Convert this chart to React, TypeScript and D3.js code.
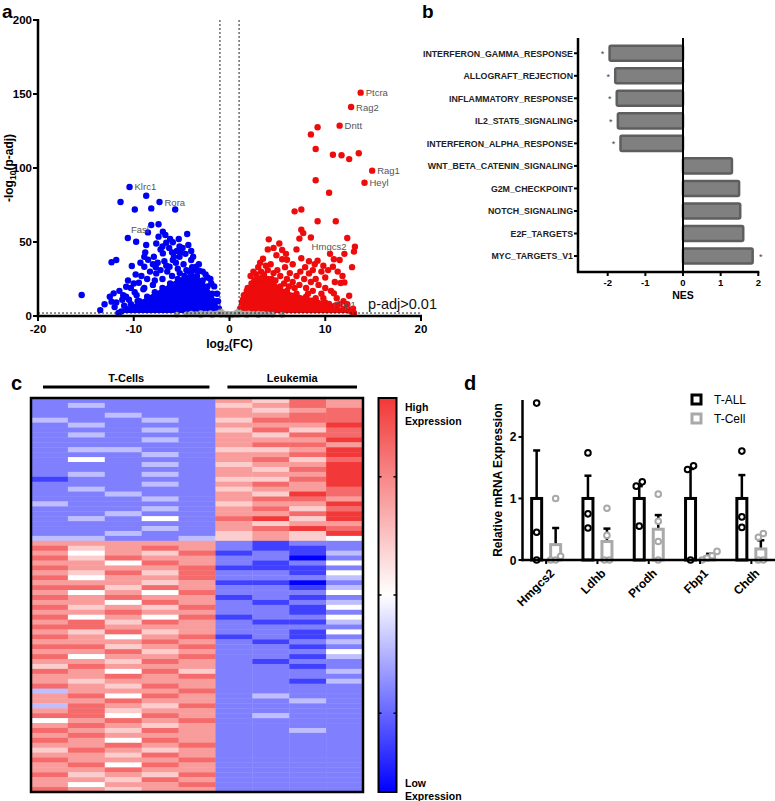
import React from 'react';
import * as d3 from 'd3';

// ---------------- Panel a : volcano ----------------
const volcanoXTicks = [-20, -10, 0, 10, 20];
const volcanoYTicks = [0, 50, 100, 150, 200];
const fcCut = 1;
const padjCut = 2; // -log10(0.01)

// up-regulated (red) scattered genes [log2FC, -log10 padj]
const upPoints: [number, number][] = [
  [9.2, 127.5], [8.5, 122.7], [9.0, 112.8], [10.8, 109], [11.7, 108.6], [12.5, 106], [13.5, 110],
  [9.0, 91.7], [10.4, 83.3], [6.8, 70.7], [7.5, 72], [9.2, 64], [11.1, 64], [7.5, 58.3], [7.3, 52.3],
  [8.5, 53], [12.3, 52.7], [7.7, 56], [4.1, 51.8], [5.2, 49], [5.5, 44.6], [4.0, 45], [13.1, 46.8],
  [13.0, 43.5], [12.0, 42], [9.2, 37.4], [10.9, 38.3], [11.5, 37.8], [4.9, 41], [5.5, 38.3], [3.5, 38.7],
  [7.5, 39], [10.8, 33.3], [10.3, 31], [8.7, 31], [8.3, 28.8], [9.6, 30], [11.3, 30], [11.8, 27],
  [11.6, 22.3], [12.0, 22.7], [12.5, 13.7], [10.9, 15.3], [9.6, 15], [8.7, 17], [8.0, 19], [7.3, 21],
  [6.6, 23], [6.0, 25], [5.3, 27], [4.6, 29], [4.0, 31], [3.3, 30], [2.8, 28], [6.3, 29], [7.0, 27],
  [7.8, 25], [8.5, 23], [9.3, 21], [10.0, 19], [10.6, 17], [11.2, 12], [11.9, 10], [12.3, 8], [12.9, 5],
  [5.8, 33], [6.6, 35], [7.9, 33], [8.9, 35], [9.8, 34], [4.3, 35], [3.8, 34], [2.5, 30], [2.2, 27],
  [5.0, 31], [7.4, 30], [10.0, 26], [11.0, 23], [9.0, 25], [6.2, 20], [5.7, 22], [4.4, 25], [3.0, 33],
  [8.3, 37], [6.0, 38], [4.6, 46], [12.8, 33], [1.5, 14], [1.9, 19], [1.3, 9], [2.6, 24], [3.6, 28],
  [4.8, 24], [6.8, 19], [8.2, 15], [9.8, 12], [11.5, 8], [12.6, 4], [7.0, 45], [5.9, 42], [3.2, 36],
];
// down-regulated (blue) scattered genes
const downPoints: [number, number][] = [
  [-8.7, 81.3], [-11.38, 77], [-9.89, 72], [-8.17, 72.7], [-5.67, 72], [-8.17, 61.5], [-7.41, 62],
  [-10.62, 52.7], [-9.75, 50.2], [-6.96, 57], [-6.7, 54.7], [-7.41, 53.6], [-4.42, 55.4], [-8.7, 48],
  [-7.65, 49], [-6.61, 49.5], [-5.92, 49.8], [-5.22, 47], [-4.9, 46], [-5.1, 43], [-4.6, 42], [-4.3, 48],
  [-10.2, 33.8], [-12.32, 36.3], [-11.83, 37.8], [-10.79, 19.8], [-12.1, 15.3], [-10.6, 24], [-9.47, 22.5],
  [-15.44, 14.2], [-13.05, 7.9], [-12.32, 9.7], [-11.83, 9.2], [-11.2, 11], [-10.8, 13], [-9.9, 16],
  [-9.0, 18], [-8.9, 40], [-8.9, 33.3], [-8.0, 35], [-7.65, 28.8], [-6.96, 42.3], [-6.26, 33.3],
  [-5.92, 37.8], [-5.22, 40], [-4.0, 37.8], [-3.48, 33.3], [-3.13, 30.5], [-8.5, 38], [-8.8, 43],
  [-7.2, 45], [-6.3, 46], [-5.5, 44], [-5.8, 40], [-7.9, 40], [-7.5, 36], [-6.8, 37], [-6.5, 30],
  [-7.2, 31], [-8.3, 30], [-9.2, 27], [-8.6, 25], [-7.8, 24], [-9.8, 28], [-10.3, 19], [-11.5, 17],
  [-12.5, 13], [-11.0, 7], [-10.3, 8], [-9.6, 10], [-3.8, 40], [-4.8, 35], [-5.4, 32], [-3.2, 35],
  [-2.8, 30], [-2.5, 28], [-2.0, 25], [-1.6, 20], [-1.3, 15], [-4.5, 31], [-3.9, 33], [-6.0, 27],
  [-7.0, 25], [-8.0, 21], [-8.9, 19], [-9.7, 14], [-10.5, 11], [-5.2, 29], [-4.2, 30], [-3.6, 31],
  [-2.3, 26], [-1.9, 22], [-1.2, 10], [-6.6, 34], [-7.7, 33], [-5.6, 36], [-4.0, 44], [-6.0, 43],
  [-9.3, 36], [-10.0, 22], [-11.1, 14], [-12.0, 6], [-13.5, 4], [-6.2, 52], [-5.3, 52], [-7.0, 47],
];
// not significant (grey)
const nsPoints: [number, number][] = [
  [-4.5, 1.0], [-4.0, 1.5], [-3.5, 1.2], [-3.0, 1.8], [-2.5, 1.5], [-2.0, 1.8], [-1.5, 1.6], [-1.2, 1.9],
  [-0.9, 3.0], [-0.7, 2.0], [-0.5, 1.2], [-0.3, 0.6], [0.0, 0.2], [0.3, 0.5], [0.5, 1.2], [0.7, 2.0],
  [0.9, 3.0], [1.2, 1.8], [1.6, 1.5], [2.0, 1.7], [2.5, 1.4], [3.0, 1.6], [3.5, 1.3], [4.0, 1.0],
  [4.5, 0.8], [-0.8, 0.8], [0.8, 0.8], [-1.8, 0.5], [1.8, 0.5], [-3.0, 0.5], [3.0, 0.5], [-5.5, 0.8],
  [5.5, 0.7], [-0.2, 1.5], [0.2, 1.4], [-1.0, 1.0], [1.0, 1.0],
];
// upper edge of the densely packed clouds
const upCore: [number, number][] = [
  [1.0, 2], [1.1, 5], [1.4, 11], [1.8, 17], [2.3, 22], [2.8, 25], [3.4, 26], [4.0, 25], [4.6, 23],
  [5.3, 20], [6.0, 17], [7.0, 15], [8.0, 13], [9.0, 12], [10.0, 9], [11.0, 7], [12.0, 5], [12.7, 3], [13.0, 2],
];
const downCore: [number, number][] = [
  [-11.6, 2], [-11.3, 3], [-10.8, 5], [-10.2, 7], [-9.4, 10], [-8.6, 13], [-7.8, 16], [-7.0, 19],
  [-6.2, 22], [-5.4, 25], [-4.7, 27], [-4.0, 28], [-3.4, 27], [-2.8, 24], [-2.3, 20], [-1.8, 15],
  [-1.4, 10], [-1.1, 5], [-1.0, 2],
];
const labelledGenes = [
  { gene: 'Ptcra', fc: 13.7, p: 150.9 },
  { gene: 'Rag2', fc: 12.7, p: 141.2 },
  { gene: 'Dntt', fc: 11.5, p: 128.6 },
  { gene: 'Rag1', fc: 14.9, p: 98.2 },
  { gene: 'Heyl', fc: 14.1, p: 90 },
  { gene: 'Hmgcs2', fc: 10.5, p: 42 },
  { gene: 'Fbp1', fc: 10.4, p: 8.1 },
  { gene: 'Klrc1', fc: -10.44, p: 87.2 },
  { gene: 'Rora', fc: -7.31, p: 77 },
  { gene: 'Fasl', fc: -8.52, p: 56.5 },
];

// ---------------- Panel b : GSEA NES ----------------
const pathways = [
  'INTERFERON_GAMMA_RESPONSE', 'ALLOGRAFT_REJECTION', 'INFLAMMATORY_RESPONSE', 'IL2_STAT5_SIGNALING',
  'INTERFERON_ALPHA_RESPONSE', 'WNT_BETA_CATENIN_SIGNALING', 'G2M_CHECKPOINT', 'NOTCH_SIGNALING',
  'E2F_TARGETS', 'MYC_TARGETS_V1',
];
const nesValues = [-1.95, -1.8, -1.76, -1.73, -1.66, 1.3, 1.49, 1.52, 1.6, 1.85];
const nesSignificant = [true, true, true, true, true, false, false, false, false, true];
const nesTicks = [-2, -1, 0, 1, 2];

// ---------------- Panel c : heatmap ----------------
const heatColumns = ['T1', 'T2', 'T3', 'T4', 'T5', 'L1', 'L2', 'L3', 'L4'];
const heatGroups = [
  { name: 'T-Cells', from: 0, to: 4 },
  { name: 'Leukemia', from: 5, to: 8 },
];
// expression level per sample, 0 = lowest (blue), 4 = middle (white), 8 = highest (red)
const heatRows = [
  '222226576', '232225676', '222226567', '223226677', '322325777', '232226668', '222325757', '232226577',
  '222326668', '222226776', '233225568', '222326678', '242226757', '222325668', '222226578', '232326668',
  '122225578', '222326768', '232225667', '223226587', '222326776', '322225668', '222326757', '223226678',
  '232427858', '222226566', '222326787', '223225658', '332235654',
  '666662122', '756762112', '646571213', '757662202', '664762124', '766671112', '657572214', '746672223',
  '666561102', '775762213', '646472224', '767661212', '664762123', '756572214', '667662212', '746471224',
  '675762113', '776662222', '657562214', '764671212', '666762123', '775672212', '667562224', '746672213',
  '665762122', '576662212', '764752223', '667672222', '656662213', '765762222', '366672222', '674762322',
  '667662232', '376572222', '675662222', '774762322', '467672222', '676562222', '765762232', '676662222',
  '764762222', '667672222', '576562222', '665762222', '766672222', '674762222', '667662222', '756572222',
  '665762222', '646672222', '765662222',
];
const colorbarTicks = [-0.6, 0, 0.6];

// ---------------- Panel d : qPCR ----------------
const qpcrGenes = ['Hmgcs2', 'Ldhb', 'Prodh', 'Fbp1', 'Chdh'];
const tallMean = [1, 1, 1, 1, 1];
const tallSem = [0.78, 0.37, 0.2, 0.48, 0.38];
const tcellMean = [0.25, 0.3, 0.5, 0.05, 0.18];
const tcellSem = [0.27, 0.21, 0.23, 0.05, 0.14];
const tallPoints = [[2.55, 0.45, 0], [1.74, 0.75, 0.52], [1.27, 1.2, 0.55], [1.53, 1.47, 0], [1.77, 0.7, 0.53]];
const tcellPoints = [[1.0, 0.06, 0, 0], [0.84, 0.4, 0, 0], [1.07, 0.63, 0.3, 0], [0.14, 0.07, 0.03, 0], [0.43, 0.37, 0, 0]];
const qpcrTicks = [0, 1, 2];
const qpcrSeries = ['T-ALL', 'T-Cell'];

const FONT = "'Liberation Sans', Arial, Helvetica, sans-serif";
const BLUE = '#0000f2';
const RED = '#ee0b0b';
const GREY = '#a9a9a9';

function dodge(vals: number[], gap: number) {
  // horizontal offsets for points whose values nearly coincide
  const idx = vals.map((v, i) => i).sort((a, b) => vals[a] - vals[b]);
  const offs = new Array(vals.length).fill(0);
  let cluster: number[] = [];
  const flush = () => {
    const n = cluster.length;
    cluster.forEach((ci, k) => { offs[ci] = n === 1 ? 0 : (k - (n - 1) / 2) * gap; });
    cluster = [];
  };
  idx.forEach((i) => {
    if (cluster.length && vals[i] - vals[cluster[cluster.length - 1]] > 0.09) flush();
    cluster.push(i);
  });
  flush();
  return offs;
}

export default function App() {
  // ---------- a ----------
  const ax = d3.scaleLinear().domain([-20, 20]).range([38, 421]);
  const ay = d3.scaleLinear().domain([0, 200]).range([316, 20]);
  const coreArea = d3.area<[number, number]>()
    .x((d) => ax(d[0])).y0(ay(padjCut)).y1((d) => ay(d[1])).curve(d3.curveMonotoneX);

  // ---------- b ----------
  const bx = d3.scaleLinear().domain([-2, 2]).range([607.7, 758.3]);
  const by = d3.scaleBand<string>().domain(pathways).range([42, 267.3]).paddingInner(0.33).paddingOuter(0.165);
  const bAxisX = 578;
  const bAxisY = 272;

  // ---------- c ----------
  const cx = d3.scaleBand<string>().domain(heatColumns).range([31, 363]);
  const cy = d3.scaleBand<number>().domain(heatRows.map((_, i) => i)).range([398, 792]);
  const heatColor = (lvl: number) => {
    const t = (lvl - 4) / 4;
    return t >= 0 ? d3.interpolateRgb('#ffffff', '#f23838')(t) : d3.interpolateRgb('#ffffff', '#0000ff')(-t);
  };
  const cbScale = d3.scaleLinear().domain([-1, 1]).range([792, 398]);

  // ---------- d ----------
  const dy = d3.scaleLinear().domain([0, 2.6]).range([560, 400]);
  const dx = d3.scaleBand<string>().domain(qpcrGenes).range([520.5, 777]);
  const dAxisX = 522.5;
  const barW = 10;
  const off = 9.5;

  return (
    <svg width={775} height={801} style={{ position: 'absolute', left: 0, top: 0, background: '#fff' }}
      fontFamily={FONT}>
      <defs>
        <linearGradient id="cbGrad" x1="0" y1="1" x2="0" y2="0">
          <stop offset="0%" stopColor="#0000ff" />
          <stop offset="50%" stopColor="#ffffff" />
          <stop offset="100%" stopColor="#f23838" />
        </linearGradient>
      </defs>
      <rect width={775} height={801} fill="#fff" />

      {/* ================= a ================= */}
      <text x={2} y={18} fontSize={19} fontWeight="bold">a</text>
      <path d={coreArea(downCore) || ''} fill={BLUE} />
      <path d={coreArea(upCore) || ''} fill={RED} />
      {downCore.map((d, i) => <circle key={'dc' + i} cx={ax(d[0])} cy={ay(d[1])} r={3.2} fill={BLUE} />)}
      {upCore.map((d, i) => <circle key={'uc' + i} cx={ax(d[0])} cy={ay(d[1])} r={3.2} fill={RED} />)}
      {downPoints.map((d, i) => <circle key={'d' + i} cx={ax(d[0])} cy={ay(d[1])} r={3.2} fill={BLUE} />)}
      {upPoints.map((d, i) => <circle key={'u' + i} cx={ax(d[0])} cy={ay(d[1])} r={3.2} fill={RED} />)}
      {nsPoints.map((d, i) => <circle key={'n' + i} cx={ax(d[0])} cy={ay(d[1])} r={3} fill={GREY} />)}
      {labelledGenes.map((g) => (
        <circle key={'lp' + g.gene} cx={ax(g.fc)} cy={ay(g.p)} r={3.2} fill={g.fc > 0 ? RED : BLUE} />
      ))}
      {labelledGenes.map((g) => {
        let x = ax(g.fc) + 5;
        let y = ay(g.p) + 3.5;
        let anchor = 'start';
        if (g.gene === 'Hmgcs2') { x = ax(g.fc) - 1; y = ay(g.p) - 4; anchor = 'middle'; }
        if (g.gene === 'Fasl') { x = ax(g.fc) + 1; y = ay(g.p) + 1; anchor = 'end'; }
        return (
          <text key={'lt' + g.gene} x={x} y={y} fontSize={9.5} fill="#555" textAnchor={anchor}>{g.gene}</text>
        );
      })}
      {/* thresholds */}
      <line x1={ax(-fcCut)} x2={ax(-fcCut)} y1={ay(200)} y2={ay(0)} stroke="#222" strokeWidth={1} strokeDasharray="2,2" />
      <line x1={ax(fcCut)} x2={ax(fcCut)} y1={ay(200)} y2={ay(0)} stroke="#222" strokeWidth={1} strokeDasharray="2,2" />
      <line x1={ax(-20)} x2={ax(20)} y1={ay(padjCut)} y2={ay(padjCut)} stroke="#222" strokeWidth={1} strokeDasharray="2,2" />
      <text x={437} y={309} fontSize={14.5} textAnchor="end" fill="#111">p-adj&gt;0.01</text>
      {/* axes */}
      <line x1={ax(-20)} x2={ax(-20)} y1={ay(200) - 1} y2={ay(0) + 1.5} stroke="#000" strokeWidth={2.5} />
      <line x1={ax(-20) - 1.2} x2={ax(20) + 1} y1={ay(0)} y2={ay(0)} stroke="#000" strokeWidth={2.5} />
      {volcanoYTicks.map((t) => (
        <g key={'ayt' + t}>
          <line x1={ax(-20) - 5} x2={ax(-20)} y1={ay(t)} y2={ay(t)} stroke="#000" strokeWidth={2} />
          <text x={ax(-20) - 6} y={ay(t) + 4} fontSize={11.5} fontWeight="bold" textAnchor="end">{t}</text>
        </g>
      ))}
      {volcanoXTicks.map((t) => (
        <g key={'axt' + t}>
          <line x1={ax(t)} x2={ax(t)} y1={ay(0)} y2={ay(0) + 5} stroke="#000" strokeWidth={2} />
          <text x={ax(t)} y={ay(0) + 17} fontSize={11.5} fontWeight="bold" textAnchor="middle">{t}</text>
        </g>
      ))}
      <text x={ax(0)} y={348} fontSize={12} fontWeight="bold" textAnchor="middle">
        log<tspan fontSize={8.5} dy={3}>2</tspan><tspan dy={-3}>(FC)</tspan>
      </text>
      <text transform={`translate(12.5,${ay(100)}) rotate(-90)`} fontSize={12} fontWeight="bold" textAnchor="middle">
        -log<tspan fontSize={8.5} dy={3}>10</tspan><tspan dy={-3}>(p-adj)</tspan>
      </text>

      {/* ================= b ================= */}
      <text x={422} y={18} fontSize={19} fontWeight="bold">b</text>
      {pathways.map((p, i) => {
        const v = nesValues[i];
        const y0 = by(p) as number;
        const h = by.bandwidth();
        return (
          <g key={p}>
            <rect x={Math.min(bx(0), bx(v))} y={y0} width={Math.abs(bx(v) - bx(0))} height={h}
              fill="#808080" stroke="#5e5e5e" strokeWidth={2.5} rx={1.5} />
            <line x1={bAxisX - 4} x2={bAxisX} y1={y0 + h / 2} y2={y0 + h / 2} stroke="#000" strokeWidth={2} />
            <text x={bAxisX - 5} y={y0 + h / 2 + 3.3} fontSize={8.8} fontWeight="bold" textAnchor="end" fill="#222">{p}</text>
            {nesSignificant[i] && (
              <text x={v < 0 ? bx(v) - 7 : bx(v) + 8} y={y0 + h / 2 + 4} fontSize={9} textAnchor="middle" fill="#444">*</text>
            )}
          </g>
        );
      })}
      <line x1={bx(0)} x2={bx(0)} y1={38} y2={bAxisY} stroke="#000" strokeWidth={2} />
      <line x1={bAxisX} x2={bAxisX} y1={38} y2={bAxisY + 1} stroke="#000" strokeWidth={2.5} />
      <line x1={bAxisX - 1} x2={bx(2) + 1} y1={bAxisY} y2={bAxisY} stroke="#000" strokeWidth={2.5} />
      {nesTicks.map((t) => (
        <g key={'bt' + t}>
          <line x1={bx(t)} x2={bx(t)} y1={bAxisY} y2={bAxisY + 4} stroke="#000" strokeWidth={2} />
          <text x={bx(t)} y={bAxisY + 13.5} fontSize={9.5} fontWeight="bold" textAnchor="middle">{t}</text>
        </g>
      ))}
      <text x={bx(0)} y={299} fontSize={10.5} fontWeight="bold" textAnchor="middle">NES</text>

      {/* ================= c ================= */}
      <text x={11} y={390} fontSize={20} fontWeight="bold">c</text>
      {heatGroups.map((g) => {
        const x1 = (cx(heatColumns[g.from]) as number) + 12;
        const x2 = (cx(heatColumns[g.to]) as number) + cx.bandwidth() - 6;
        return (
          <g key={g.name}>
            <text x={(x1 + x2) / 2} y={382} fontSize={11} fontWeight="bold" textAnchor="middle">{g.name}</text>
            <line x1={x1} x2={x2} y1={387} y2={387} stroke="#000" strokeWidth={3} />
          </g>
        );
      })}
      {heatRows.map((row, ri) =>
        row.split('').map((ch, ci) => (
          <rect key={ri + '-' + ci} x={cx(heatColumns[ci]) as number} y={cy(ri) as number}
            width={cx.bandwidth() + 0.4} height={cy.bandwidth() + 0.4} fill={heatColor(Number(ch))} />
        ))
      )}
      <rect x={31} y={398} width={332} height={394} fill="none" stroke="#000" strokeWidth={2.5} />
      {/* colour bar */}
      <rect x={378.5} y={cbScale(1)} width={18} height={cbScale(-1) - cbScale(1)} fill="url(#cbGrad)" stroke="#000" strokeWidth={2} />
      {colorbarTicks.map((t) => (
        <g key={'cb' + t}>
          <line x1={378.5} x2={381.5} y1={cbScale(t)} y2={cbScale(t)} stroke="#000" strokeWidth={1.5} />
          <line x1={393.5} x2={396.5} y1={cbScale(t)} y2={cbScale(t)} stroke="#000" strokeWidth={1.5} />
        </g>
      ))}
      <text x={405} y={411} fontSize={10.5} fontWeight="bold">High</text>
      <text x={405} y={425} fontSize={10.5} fontWeight="bold">Expression</text>
      <text x={405} y={787} fontSize={10.5} fontWeight="bold">Low</text>
      <text x={405} y={800} fontSize={10.5} fontWeight="bold">Expression</text>

      {/* ================= d ================= */}
      <text x={464} y={390} fontSize={20} fontWeight="bold">d</text>
      <text transform={`translate(502,${dy(1.3)}) rotate(-90)`} fontSize={12} fontWeight="bold" textAnchor="middle">
        Relative mRNA Expression
      </text>
      {qpcrGenes.map((g, i) => {
        const c = (dx(g) as number) + dx.bandwidth() / 2;
        const xb = c - off;
        const xg = c + off;
        const oB = dodge(tallPoints[i], 6);
        const oG = dodge(tcellPoints[i], 5);
        return (
          <g key={g}>
            {/* T-ALL */}
            <line x1={xb} x2={xb} y1={dy(tallMean[i])} y2={dy(tallMean[i] + tallSem[i])} stroke="#000" strokeWidth={2.5} />
            <line x1={xb - 3.5} x2={xb + 3.5} y1={dy(tallMean[i] + tallSem[i])} y2={dy(tallMean[i] + tallSem[i])} stroke="#000" strokeWidth={2.5} />
            <rect x={xb - barW / 2} y={dy(tallMean[i])} width={barW} height={dy(0) - dy(tallMean[i])} fill="#fff" stroke="#000" strokeWidth={3} />
            {tallPoints[i].map((v, k) => (
              <circle key={'tp' + k} cx={xb + oB[k]} cy={dy(v)} r={2.8} fill="#fff" stroke="#000" strokeWidth={2} />
            ))}
            {/* T-Cell */}
            <line x1={xg} x2={xg} y1={dy(tcellMean[i])} y2={dy(tcellMean[i] + tcellSem[i])} stroke="#000" strokeWidth={2.5} />
            <line x1={xg - 3.5} x2={xg + 3.5} y1={dy(tcellMean[i] + tcellSem[i])} y2={dy(tcellMean[i] + tcellSem[i])} stroke="#000" strokeWidth={2.5} />
            <rect x={xg - barW / 2} y={dy(tcellMean[i])} width={barW} height={dy(0) - dy(tcellMean[i])} fill="#fff" stroke={GREY} strokeWidth={3} />
            {tcellPoints[i].map((v, k) => (
              <circle key={'cp' + k} cx={xg + oG[k]} cy={dy(v)} r={2.8} fill="#fff" stroke={GREY} strokeWidth={2} />
            ))}
            <line x1={c} x2={c} y1={dy(0)} y2={dy(0) + 4} stroke="#000" strokeWidth={2} />
            <text transform={`translate(${c + 3},${dy(0) + 8}) rotate(-45)`} fontSize={12} fontWeight="bold" textAnchor="end" dy="0.7em">{g}</text>
          </g>
        );
      })}
      <line x1={dAxisX} x2={dAxisX} y1={dy(2.6)} y2={dy(0) + 1.2} stroke="#000" strokeWidth={2.5} />
      <line x1={dAxisX - 1.2} x2={775} y1={dy(0)} y2={dy(0)} stroke="#000" strokeWidth={2.5} />
      {qpcrTicks.map((t) => (
        <g key={'dt' + t}>
          <line x1={dAxisX - 4} x2={dAxisX} y1={dy(t)} y2={dy(t)} stroke="#000" strokeWidth={2} />
          <text x={dAxisX - 6} y={dy(t) + 4.5} fontSize={12} fontWeight="bold" textAnchor="end">{t}</text>
        </g>
      ))}
      {qpcrSeries.map((s, i) => (
        <g key={s}>
          <rect x={692} y={395 + i * 19} width={9} height={9} fill="#fff" stroke={i === 0 ? '#000' : GREY} strokeWidth={3} />
          <text x={714} y={404 + i * 19} fontSize={12}>{s}</text>
        </g>
      ))}
    </svg>
  );
}
